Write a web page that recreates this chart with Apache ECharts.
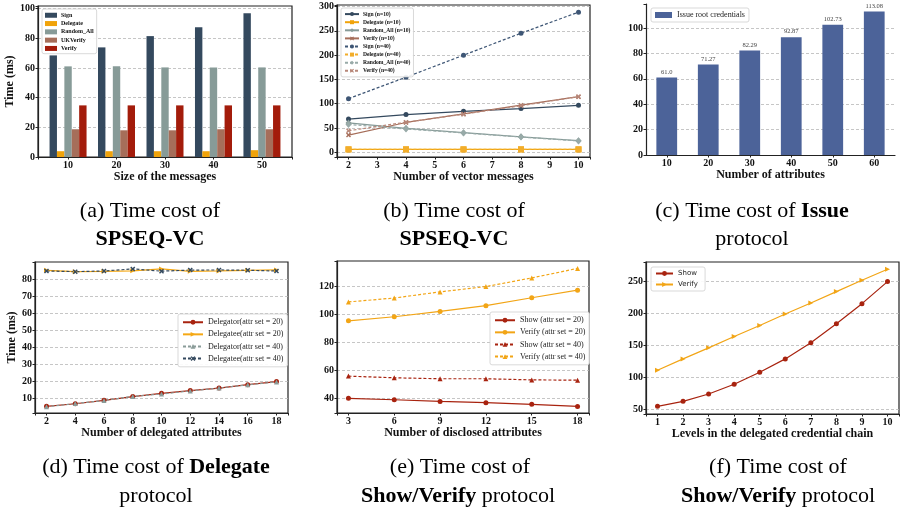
<!DOCTYPE html>
<html>
<head>
<meta charset="utf-8">
<script src="https://cdn.jsdelivr.net/npm/echarts@6/dist/echarts.min.js"></script>
<style>html,body{margin:0;padding:0;background:#fff}#c{width:906px;height:515px}</style>
</head>
<body>
<div id="c"></div>
<script>
// ---------- data ----------
const aCats = ['10', '20', '30', '40', '50'];
const aSign = [68.5, 73.9, 81.5, 87.4, 96.9];
const aDelegate = [3.9, 3.9, 3.9, 3.9, 4.6];
const aRandomAll = [61.1, 61.1, 60.4, 60.4, 60.4];
const aUKVerify = [18.7, 18.0, 18.0, 18.7, 18.7];
const aVerify = [34.8, 34.8, 34.8, 34.8, 34.8];

const bX = [2, 4, 6, 8, 10];
const bSign10 = [68.5, 77.8, 84.4, 90.0, 96.8];
const bDelegate10 = [6.0, 6.0, 6.0, 6.0, 6.0];
const bRandom10 = [60.5, 49.5, 40.5, 32.0, 24.0];
const bVerify10 = [35.5, 61.5, 79.0, 97.0, 114.5];
const bSign40 = [110.5, 154.5, 199.8, 245.0, 288.3];
const bDelegate40 = [6.3, 6.3, 6.3, 6.3, 6.3];
const bRandom40 = [57.5, 48.0, 40.0, 31.5, 23.5];
const bVerify40 = [44.5, 62.0, 78.5, 96.0, 114.5];

const cCats = ['10', '20', '30', '40', '50', '60'];
const cIssue = [61.0, 71.27, 82.29, 92.87, 102.73, 113.08];

const dX = [2, 4, 6, 8, 10, 12, 14, 16, 18];
const dDelegator20 = [5.5, 7.0, 9.0, 11.2, 13.1, 14.7, 16.2, 18.2, 20.0];
const dDelegatee20 = [85.1, 84.3, 84.5, 84.8, 85.9, 84.5, 84.7, 85.1, 85.3];
const dDelegator40 = [5.3, 7.1, 8.9, 11.3, 12.7, 14.5, 16.2, 18.1, 19.8];
const dDelegatee40 = [84.7, 84.3, 84.7, 85.9, 84.6, 85.2, 85.3, 85.1, 84.7];

const eX = [3, 6, 9, 12, 15, 18];
const eShow20 = [40.0, 39.0, 37.8, 36.9, 35.7, 34.2];
const eVerify20 = [95.5, 98.4, 102.2, 106.3, 112.0, 117.4];
const eShow40 = [55.9, 54.7, 54.0, 54.0, 53.2, 53.0];
const eVerify40 = [109.0, 111.8, 116.2, 120.0, 126.2, 133.0];

const fX = [1, 2, 3, 4, 5, 6, 7, 8, 9, 10];
const fShow = [54.2, 62.1, 73.6, 88.8, 107.7, 128.7, 153.9, 183.9, 215.4, 250.0];
const fVerify = [110.9, 128.7, 146.0, 163.9, 181.2, 199.1, 216.4, 234.3, 252.1, 269.4];

// ---------- styling helpers ----------
const S = 'Liberation Serif';
const C_BLUE = '#34495e', C_ORANGE = '#f0a30a', C_GRAY = '#879b98', C_BROWN = '#a66e5a', C_RED = '#a31c0b';
const C_ISSUE = '#4c6399';
const X_SYM = 'path://M2,0 L5,3 L8,0 L10,2 L7,5 L10,8 L8,10 L5,7 L2,10 L0,8 L3,5 L0,2 Z';
const RTRI = 'path://M0,0 L10,5 L0,10 Z';

function fmt(step) {
  return function (v) {
    const k = v / step;
    return Math.abs(k - Math.round(k)) < 1e-6 ? String(Math.round(v * 1000) / 1000) : '';
  };
}
function tickLabel(size) {
  return { fontFamily: S, fontWeight: 'bold', fontSize: size || 10, color: '#111', margin: 3 };
}
function valAxis(gi, min, max, step, isY, extra) {
  return Object.assign({
    type: 'value', gridIndex: gi, min: min, max: max, minInterval: step, maxInterval: step,
    axisLabel: Object.assign(tickLabel(), { formatter: fmt(step) }),
    axisTick: { show: true, length: 2.5, lineStyle: { color: '#222', width: 1 } },
    axisLine: { show: true, onZero: false, lineStyle: { color: '#222', width: 1.2 } },
    splitLine: isY ? { show: true, showMinLine: false, showMaxLine: false, lineStyle: { color: '#b8b8b8', type: [3, 2], width: 0.8 } } : { show: false }
  }, extra || {});
}
function catAxis(gi, cats, extra) {
  return Object.assign({
    type: 'category', gridIndex: gi, data: cats, boundaryGap: true,
    axisLabel: tickLabel(),
    axisTick: { show: true, alignWithLabel: true, length: 2.5, lineStyle: { color: '#222' } },
    axisLine: { show: true, lineStyle: { color: '#222', width: 1.2 } },
    splitLine: { show: false }
  }, extra || {});
}
const xName = (t, gap) => ({ name: t, nameLocation: 'middle', nameGap: gap, nameTextStyle: { fontFamily: S, fontWeight: 'bold', fontSize: 12, color: '#111' } });
const yName = (t, gap) => ({ name: t, nameLocation: 'middle', nameGap: gap, nameTextStyle: { fontFamily: S, fontWeight: 'bold', fontSize: 12, color: '#111' } });

function pairs(xs, ys) { return xs.map((x, i) => [x, ys[i]]); }
function line(name, gi, xs, ys, color, symbol, dashed, opt) {
  return Object.assign({
    type: 'line', name: name, xAxisIndex: gi, yAxisIndex: gi, data: pairs(xs, ys),
    symbol: symbol, symbolSize: 5, showSymbol: true,
    lineStyle: { color: color, width: 1.2, type: dashed ? [3, 2] : 'solid' },
    itemStyle: { color: color, borderWidth: 0 },
    emphasis: { disabled: true }
  }, opt || {});
}
// panel (a): bars on a value axis whose positions are category indices
const aIdx = aCats.map((c, i) => i);
function bar(name, gi, ys, color) {
  return { type: 'bar', name: name, xAxisIndex: gi, yAxisIndex: gi, data: pairs(aIdx, ys), barWidth: 7.4, barGap: '0%', itemStyle: { color: color }, emphasis: { disabled: true } };
}
function legendBox(extra) {
  return Object.assign({
    orient: 'vertical', backgroundColor: 'rgba(255,255,255,0.9)', borderColor: '#cfcfcf', borderWidth: 0.8, borderRadius: 2,
    selectedMode: false
  }, extra);
}

const gridFrame = { show: true, borderColor: '#222', borderWidth: 1.2, backgroundColor: 'transparent' };

const option = {
  animation: false,
  backgroundColor: '#fff',
  grid: [
    Object.assign({ left: 38, top: 6, width: 254, height: 151 }, gridFrame),
    Object.assign({ left: 337, top: 5, width: 253, height: 152 }, gridFrame),
    { left: 646, top: 4, width: 249, height: 151, show: false },
    Object.assign({ left: 35, top: 262, width: 253, height: 151 }, gridFrame),
    Object.assign({ left: 337, top: 261, width: 252, height: 152 }, gridFrame),
    Object.assign({ left: 646, top: 262, width: 253, height: 152 }, gridFrame)
  ],
  xAxis: [
    valAxis(0, -0.62, 4.62, 1, false, Object.assign(xName('Size of the messages', 10), {
      axisLabel: Object.assign(tickLabel(), { formatter: v => (Math.abs(v - Math.round(v)) < 1e-6 && aCats[Math.round(v)] !== undefined) ? aCats[Math.round(v)] : '' })
    })),
    valAxis(1, 1.6, 10.4, 1, false, xName('Number of vector messages', 10)),
    catAxis(2, cCats, xName('Number of attributes', 11)),
    valAxis(3, 1.2, 18.8, 2, false, xName('Number of delegated attributes', 11)),
    valAxis(4, 2.25, 18.75, 3, false, xName('Number of disclosed attributes', 11)),
    valAxis(5, 0.55, 10.45, 1, false, xName('Levels in the delegated credential chain', 11))
  ],
  yAxis: [
    valAxis(0, 0, 101.8, 20, true, yName('Time (ms)', 9)),
    valAxis(1, -9.5, 303, 50, true),
    valAxis(2, 0, 119, 20, true),
    valAxis(3, 1.6, 89.95, 10, true, yName('Time (ms)', 7)),
    valAxis(4, 29.5, 138.3, 20, true),
    valAxis(5, 42.2, 280.8, 50, true)
  ],
  legend: [
    legendBox({ left: 42, top: 9, itemWidth: 12, itemHeight: 5, itemGap: 1.8, padding: [3, 3, 2, 3], icon: 'rect',
      textStyle: { fontFamily: S, fontWeight: 'bold', fontSize: 6, lineHeight: 6.5, color: '#111', padding: [0, 0, 0, -1] },
      data: ['Sign', 'Delegate', 'Random_All', 'UKVerify', 'Verify'] }),
    legendBox({ left: 341, top: 8, itemWidth: 14, itemHeight: 5, itemGap: 1.9, padding: [3, 3, 3, 3],
      textStyle: { fontFamily: S, fontWeight: 'bold', fontSize: 5.6, lineHeight: 6.2, color: '#111', padding: [0, 0, 0, -1] },
      data: ['Sign (n=10)', 'Delegate (n=10)', 'Random_All (n=10)', 'Verify (n=10)', 'Sign (n=40)', 'Delegate (n=40)', 'Random_All (n=40)', 'Verify (n=40)'] }),
    legendBox({ left: 651, top: 8, itemWidth: 17, itemHeight: 6, padding: [3, 4, 3, 4], icon: 'rect',
      textStyle: { fontFamily: S, fontSize: 8, color: '#222' },
      data: ['Issue root credentials'] }),
    legendBox({ left: 178, top: 314, itemWidth: 20, itemHeight: 6, itemGap: 3.6, padding: [4, 4, 4, 4],
      textStyle: { fontFamily: S, fontSize: 8, lineHeight: 8.5, color: '#222' },
      data: ['Delegator(attr set = 20)', 'Delegatee(attr set = 20)', 'Delegator(attr set = 40)', 'Delegatee(attr set = 40)'] }),
    legendBox({ left: 490, top: 312, itemWidth: 20, itemHeight: 6, itemGap: 3.6, padding: [4, 4, 4, 4],
      textStyle: { fontFamily: S, fontSize: 8, lineHeight: 8.5, color: '#222' },
      data: ['Show (attr set = 20)', 'Verify (attr set = 20)', 'Show (attr set = 40)', 'Verify (attr set = 40)'] }),
    legendBox({ left: 651, top: 267, itemWidth: 17, itemHeight: 6, itemGap: 4, padding: [3, 5, 3, 4],
      textStyle: { fontFamily: 'DejaVu Sans', fontSize: 7, color: '#222' },
      data: ['Show', 'Verify '] })
  ],
  series: [
    bar('Sign', 0, aSign, C_BLUE),
    bar('Delegate', 0, aDelegate, C_ORANGE),
    bar('Random_All', 0, aRandomAll, C_GRAY),
    bar('UKVerify', 0, aUKVerify, C_BROWN),
    bar('Verify', 0, aVerify, C_RED),

    line('Sign (n=10)', 1, bX, bSign10, C_BLUE, 'circle', false),
    line('Delegate (n=10)', 1, bX, bDelegate10, C_ORANGE, 'rect', false, { symbolSize: 6 }),
    line('Random_All (n=10)', 1, bX, bRandom10, C_GRAY, 'diamond', false, { symbolSize: [6, 7] }),
    line('Verify (n=10)', 1, bX, bVerify10, C_BROWN, X_SYM, false),
    line('Sign (n=40)', 1, bX, bSign40, '#3e5675', 'circle', true),
    line('Delegate (n=40)', 1, bX, bDelegate40, '#f2ad2a', 'rect', true, { symbolSize: 6 }),
    line('Random_All (n=40)', 1, bX, bRandom40, '#98aaa8', 'diamond', true, { symbolSize: [6, 7] }),
    line('Verify (n=40)', 1, bX, bVerify40, '#b8887a', X_SYM, true),

    { type: 'bar', name: 'Issue root credentials', xAxisIndex: 2, yAxisIndex: 2, data: cIssue, barWidth: '50%',
      itemStyle: { color: C_ISSUE }, emphasis: { disabled: true },
      label: { show: true, position: 'top', distance: 2, fontFamily: S, fontSize: 6.5, color: '#444',
        formatter: p => Number.isInteger(p.value) ? p.value.toFixed(1) : String(p.value) } },

    line('Delegator(attr set = 20)', 3, dX, dDelegator20, '#a8230f', 'circle', false),
    line('Delegatee(attr set = 20)', 3, dX, dDelegatee20, '#f5a814', RTRI, false),
    line('Delegator(attr set = 40)', 3, dX, dDelegator40, '#8a9c99', 'triangle', true),
    line('Delegatee(attr set = 40)', 3, dX, dDelegatee40, '#34495e', X_SYM, true),

    line('Show (attr set = 20)', 4, eX, eShow20, '#a8230f', 'circle', false),
    line('Verify (attr set = 20)', 4, eX, eVerify20, '#f2a516', 'circle', false),
    line('Show (attr set = 40)', 4, eX, eShow40, '#a8230f', 'triangle', true),
    line('Verify (attr set = 40)', 4, eX, eVerify40, '#f2a516', 'triangle', true),

    line('Show', 5, fX, fShow, '#a8230f', 'circle', false),
    line('Verify ', 5, fX, fVerify, '#f2a516', RTRI, false)
  ],
  graphic: (function () {
    const rich = {
      r: { fontFamily: S, fontSize: 22, color: '#111' },
      b: { fontFamily: S, fontSize: 22, fontWeight: 'bold', color: '#111' }
    };
    const caps = [
      [150, 211, '{r|(a) Time cost of}'], [150, 239, '{b|SPSEQ-VC}'],
      [454, 211, '{r|(b) Time cost of}'], [454, 239, '{b|SPSEQ-VC}'],
      [752, 211, '{r|(c) Time cost of }{b|Issue}'], [752, 239, '{r|protocol}'],
      [156, 467, '{r|(d) Time cost of }{b|Delegate}'], [156, 496, '{r|protocol}'],
      [460, 467, '{r|(e) Time cost of}'], [458, 496, '{b|Show/Verify}{r| protocol}'],
      [778, 467, '{r|(f) Time cost of}'], [778, 496, '{b|Show/Verify}{r| protocol}']
    ];
    return caps.map(c => ({
      type: 'text', x: c[0], y: c[1], silent: true,
      style: { text: c[2], rich: rich, align: 'center', verticalAlign: 'middle', textAlign: 'center', textVerticalAlign: 'middle' }
    }));
  })()
};

const chart = echarts.init(document.getElementById('c'), null, { renderer: 'canvas' });
chart.setOption(option);
</script>
</body>
</html>
